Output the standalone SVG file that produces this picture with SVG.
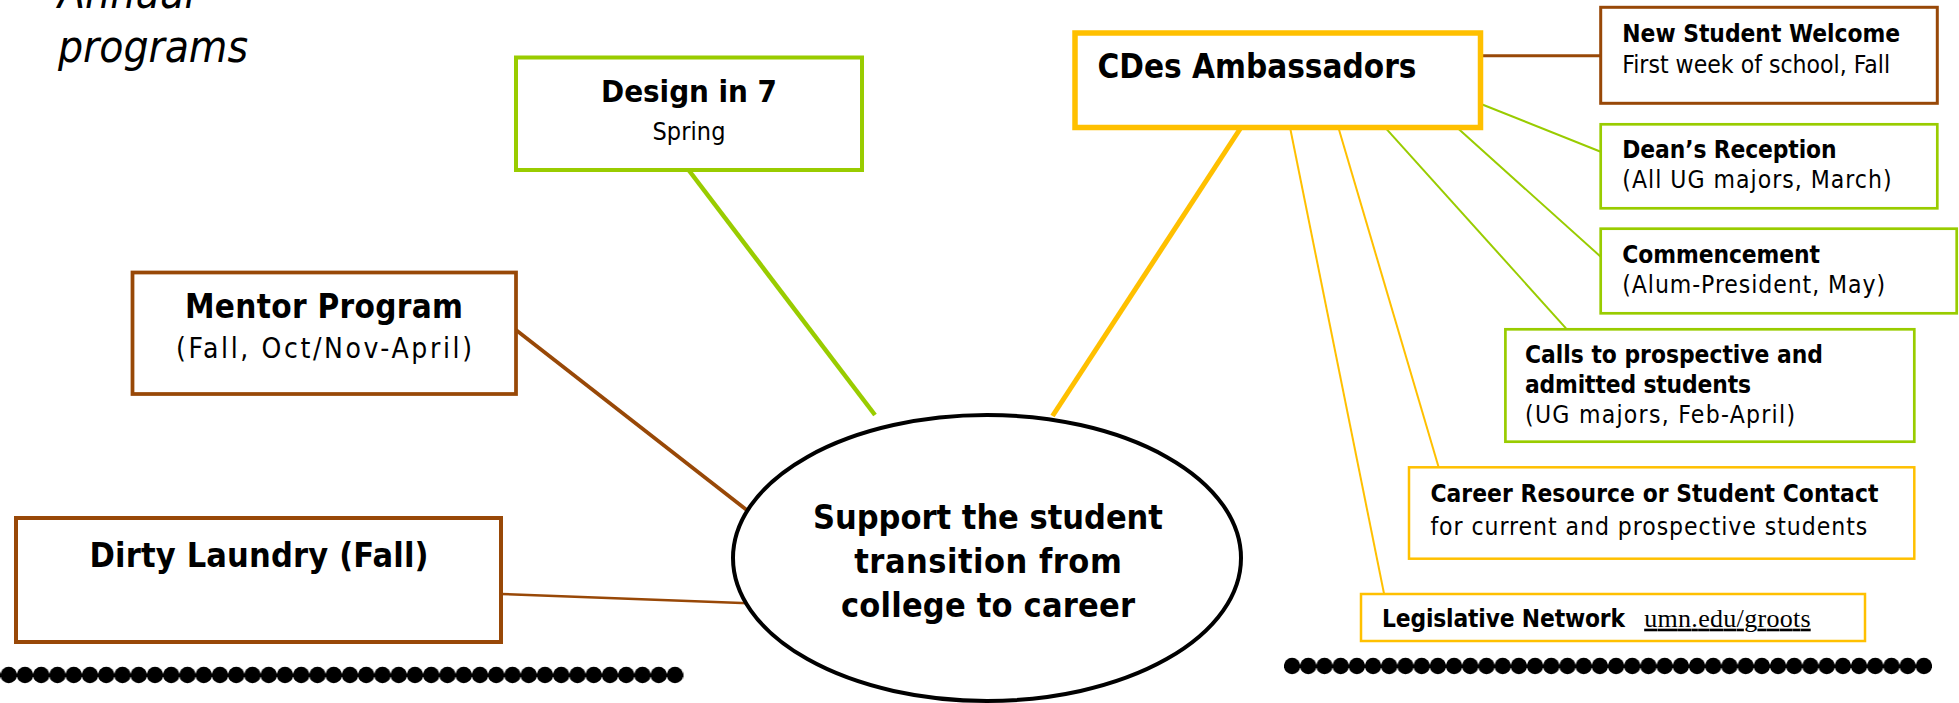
<svg xmlns="http://www.w3.org/2000/svg" width="1959" height="703" viewBox="0 0 1959 703">
<style>
text{font-family:"DejaVu Sans Condensed","DejaVu Sans",sans-serif;font-stretch:condensed;fill:#000}
.b{font-weight:bold}
.m{text-anchor:middle}
.box{fill:#fff}
.g{stroke:#99CC00}
.br{stroke:#984807}
.y{stroke:#FFC000}
.ln{fill:none}
.sb{font-size:24.3px;font-weight:bold}
.sr{font-size:24.5px}
</style>
<defs>
<pattern id="dotsL" patternUnits="userSpaceOnUse" x="0.625" y="666" width="16.25" height="18">
<circle cx="8.125" cy="9" r="8.2" fill="#000"/>
</pattern>
<pattern id="dotsR" patternUnits="userSpaceOnUse" x="1284" y="657" width="16.2" height="18">
<circle cx="8.1" cy="9" r="8.2" fill="#000"/>
</pattern>
</defs>
<rect width="1959" height="703" fill="#fff"/>

<g id="title">
<text x="58" y="8" font-size="44" font-style="italic">Annual</text>
<text x="58" y="62" font-size="44" font-style="italic" textLength="190">programs</text>
</g>

<g id="connectors">
<line class="ln g" x1="689" y1="170.5" x2="875" y2="415" stroke-width="4.5"/>
<line class="ln br" x1="516" y1="330" x2="746.7" y2="510" stroke-width="3.75"/>
<line class="ln br" x1="501" y1="594" x2="748.3" y2="603.3" stroke-width="2.5"/>
<line class="ln y" x1="1241" y1="127.5" x2="1052.5" y2="416" stroke-width="5"/>
<line class="ln br" x1="1483" y1="55.7" x2="1600.7" y2="55.7" stroke-width="3"/>
<line class="ln g" x1="1481" y1="104" x2="1600.7" y2="151.7" stroke-width="2"/>
<line class="ln g" x1="1456.7" y1="127.3" x2="1600.7" y2="256.7" stroke-width="2"/>
<line class="ln g" x1="1385" y1="127.3" x2="1566" y2="328.3" stroke-width="2"/>
<line class="ln y" x1="1338.3" y1="127.3" x2="1438.5" y2="466.7" stroke-width="2"/>
<line class="ln y" x1="1290" y1="127.3" x2="1384" y2="593.5" stroke-width="2"/>
</g>

<g id="design7">
<rect class="box g" x="516" y="57.5" width="346" height="112.5" stroke-width="4"/>
<text class="b m" x="689" y="102" font-size="31" textLength="176">Design in 7</text>
<text class="m" x="689" y="140" font-size="25" textLength="73">Spring</text>
</g>

<g id="mentor">
<rect class="box br" x="132.5" y="272.5" width="383.5" height="121.5" stroke-width="3.75"/>
<text class="b m" x="324" y="318" font-size="33" textLength="278">Mentor Program</text>
<text class="m" x="324" y="358" font-size="28" textLength="296">(Fall, Oct/Nov-April)</text>
</g>

<g id="dirty">
<rect class="box br" x="16" y="518" width="485" height="124" stroke-width="4"/>
<text class="b m" x="259" y="567" font-size="34" textLength="339">Dirty Laundry (Fall)</text>
</g>

<g id="center">
<ellipse cx="987" cy="558" rx="254" ry="143" fill="#fff" stroke="#000" stroke-width="4"/>
<text class="b m" x="988" y="528.5" font-size="34" textLength="350">Support the student</text>
<text class="b m" x="988" y="572.5" font-size="34" textLength="267.5">transition from</text>
<text class="b m" x="988" y="616.7" font-size="34" textLength="294">college to career</text>
</g>

<g id="ambassadors">
<rect class="box y" x="1075" y="33" width="405.5" height="94.5" stroke-width="5.5"/>
<text class="b" x="1097.5" y="77.5" font-size="33" textLength="319">CDes Ambassadors</text>
</g>

<g id="welcome">
<rect class="box br" x="1600.7" y="7.3" width="336.6" height="96" stroke-width="3"/>
<text class="sb" x="1622.3" y="41.7" textLength="277.7">New Student Welcome</text>
<text class="sr" x="1622.3" y="73.3" textLength="267.7">First week of school, Fall</text>
</g>

<g id="dean">
<rect class="box g" x="1600.7" y="124.3" width="336.6" height="84" stroke-width="2.7"/>
<text class="sb" x="1622.3" y="158.3" textLength="214.3">Dean’s Reception</text>
<text class="sr" x="1622.3" y="188.3" textLength="269.3">(All UG majors, March)</text>
</g>

<g id="commencement">
<rect class="box g" x="1600.7" y="228.7" width="356" height="84.6" stroke-width="2.7"/>
<text class="sb" x="1622.3" y="263.3" textLength="197.7">Commencement</text>
<text class="sr" x="1622.3" y="293.3" textLength="262.7">(Alum-President, May)</text>
</g>

<g id="calls">
<rect class="box g" x="1505.4" y="329.3" width="408.9" height="112.4" stroke-width="2.7"/>
<text class="sb" x="1525" y="362.7" textLength="298">Calls to prospective and</text>
<text class="sb" x="1525" y="392.7" textLength="226">admitted students</text>
<text class="sr" x="1525" y="423.3" textLength="270">(UG majors, Feb-April)</text>
</g>

<g id="career">
<rect class="box y" x="1409" y="467.3" width="505.3" height="91.4" stroke-width="2.5"/>
<text class="sb" x="1430.4" y="501.7" textLength="448">Career Resource or Student Contact</text>
<text class="sr" x="1430.4" y="535" textLength="436.8">for current and prospective students</text>
</g>

<g id="legislative">
<rect class="box y" x="1361" y="594" width="504" height="47" stroke-width="2.5"/>
<text class="sb" x="1382" y="626.7" textLength="243">Legislative Network</text>
<text x="1644.2" y="626.7" font-size="26" textLength="166.5" text-decoration="underline" style="font-family:'Liberation Serif','Times New Roman',serif;font-stretch:normal">umn.edu/groots</text>
</g>

<g id="dividers">
<rect x="-16" y="666" width="699.5" height="18" fill="url(#dotsL)"/>
<rect x="1284" y="657" width="648" height="18" fill="url(#dotsR)"/>
</g>
</svg>
